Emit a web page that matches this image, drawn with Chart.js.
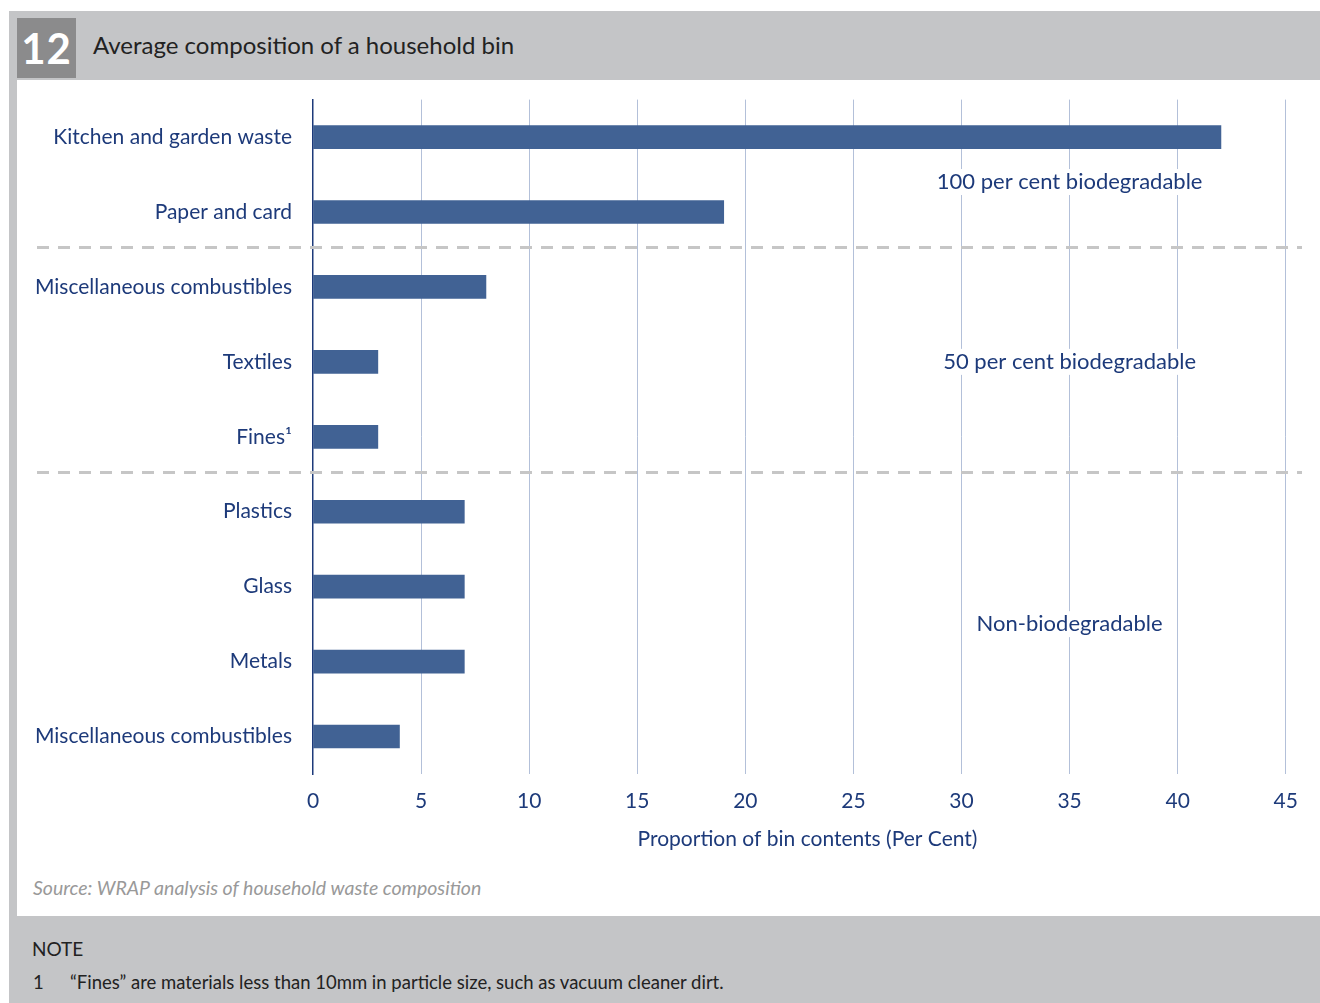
<!DOCTYPE html>
<html>
<head>
<meta charset="utf-8">
<script src="https://cdn.jsdelivr.net/npm/chart.js@4"></script>
<style>
  body { margin: 0; width: 1320px; height: 1003px; background: #fff; position: relative; overflow: hidden; font-family: Lato, "Noto Sans", sans-serif; }
  #stripe { position: absolute; left: 9px; top: 11px; width: 8px; height: 992px; background: #c4c5c7; }
  #header { position: absolute; left: 9px; top: 11px; width: 1311px; height: 69px; background: #c4c5c7; z-index: 2; }
  #num { position: absolute; left: 17px; top: 18px; width: 59px; height: 60px; background: #8b8b8c; color: #fff; font: bold 42px Lato, sans-serif; line-height: 60px; text-align: center; letter-spacing: 1px; z-index: 3; }
  #title { position: absolute; left: 93px; top: 30px; font-size: 24px; color: #222; z-index: 3; }
  #wrap { position: absolute; left: 17px; top: 74px; width: 1303px; height: 796px; z-index: 1; }
  #source { position: absolute; left: 33px; top: 876px; font-size: 19.5px; font-style: italic; color: #999; }
  #note { position: absolute; left: 9px; top: 916px; width: 1311px; height: 87px; background: #c4c5c7; color: #222; font-size: 19px; }
  #note .h { position: absolute; left: 23px; top: 21px; }
  #note .n { position: absolute; left: 24px; top: 55px; font-size: 18.5px; }
  #note .t { position: absolute; left: 61px; top: 55px; font-size: 18.5px; }
</style>
</head>
<body>
<div id="stripe"></div>
<div id="header"></div>
<div id="num">12</div>
<div id="title">Average composition of a household bin</div>
<div id="wrap"><canvas id="binChart" width="1303" height="796"></canvas></div>
<div id="source">Source: WRAP analysis of household waste composition</div>
<div id="note">
  <div class="h">NOTE</div>
  <div class="n">1</div>
  <div class="t">“Fines” are materials less than 10mm in particle size, such as vacuum cleaner dirt.</div>
</div>
<script>
// kategori dan nilai (persen)
const categories = [
  "Kitchen and garden waste",
  "Paper and card",
  "Miscellaneous combustibles",
  "Textiles",
  "Fines¹",
  "Plastics",
  "Glass",
  "Metals",
  "Miscellaneous combustibles"
];
const shares = [42, 19, 8, 3, 3, 7, 7, 7, 4];
const xTicks = [0, 5, 10, 15, 20, 25, 30, 35, 40, 45];

// label kelompok: posisi di indeks kategori
const groupNames = ["100 per cent biodegradable", "50 per cent biodegradable", "Non-biodegradable"];
const groupAt = [0.6, 3, 6.5];
const dividers = [1.47, 4.47];

const navy = "#1d3a7a";
const font = "Lato, 'Noto Sans', sans-serif";

const groupPlugin = {
  id: "groups",
  beforeDatasetsDraw(chart) {
    const { ctx, scales: { x, y } } = chart;
    ctx.save();
    ctx.strokeStyle = "#c6c6c6";
    ctx.lineWidth = 3;
    ctx.setLineDash([12, 9]);
    dividers.forEach(function (d) {
      const py = Math.round(y.getPixelForValue(d)) + 0.5;
      ctx.beginPath();
      ctx.moveTo(20, py);
      ctx.lineTo(1285, py);
      ctx.stroke();
    });
    ctx.restore();
  },
  afterDatasetsDraw(chart) {
    const { ctx, scales: { x, y } } = chart;
    ctx.save();
    ctx.font = "22px " + font;
    ctx.textAlign = "center";
    ctx.textBaseline = "middle";
    const cx = x.getPixelForValue(35);
    groupNames.forEach(function (name, i) {
      const py = y.getPixelForValue(groupAt[i]);
      const w = ctx.measureText(name).width;
      ctx.fillStyle = "#fff";
      ctx.fillRect(cx - w / 2 - 6, py - 13, w + 12, 26);
      ctx.fillStyle = navy;
      ctx.fillText(name, cx, py);
    });
    ctx.restore();
  }
};

const ctx = document.getElementById("binChart").getContext("2d");
new Chart(ctx, {
  type: "bar",
  data: {
    labels: categories,
    datasets: [{
      data: shares,
      backgroundColor: "#416294",
      barThickness: 23
    }]
  },
  options: {
    indexAxis: "y",
    responsive: false,
    animation: false,
    layout: { padding: { top: 3, right: 18, left: 0, bottom: 0 } },
    plugins: { legend: { display: false }, tooltip: { enabled: false } },
    scales: {
      x: {
        min: 0,
        max: 45.75,
        afterFit(scale) { scale.height = 96; },
        afterBuildTicks(scale) { scale.ticks = xTicks.map(function (v) { return { value: v }; }); },
        ticks: { color: navy, font: { family: font, size: 21 }, padding: 15 },
        grid: {
          drawTicks: false,
          color: function (c) { return c.tick && c.tick.value === 0 ? "rgba(0,0,0,0)" : "#b3c0d9"; }
        },
        border: { display: false },
        title: {
          display: true,
          text: "Proportion of bin contents (Per Cent)",
          color: navy,
          font: { family: font, size: 21 },
          padding: { bottom: 18 }
        }
      },
      y: {
        afterFit(scale) { scale.width = 296; },
        ticks: { color: navy, font: { family: font, size: 21 }, padding: 13 },
        grid: { display: false },
        border: { display: true, color: navy, width: 1.5 }
      }
    }
  },
  plugins: [groupPlugin]
});
</script>
</body>
</html>
